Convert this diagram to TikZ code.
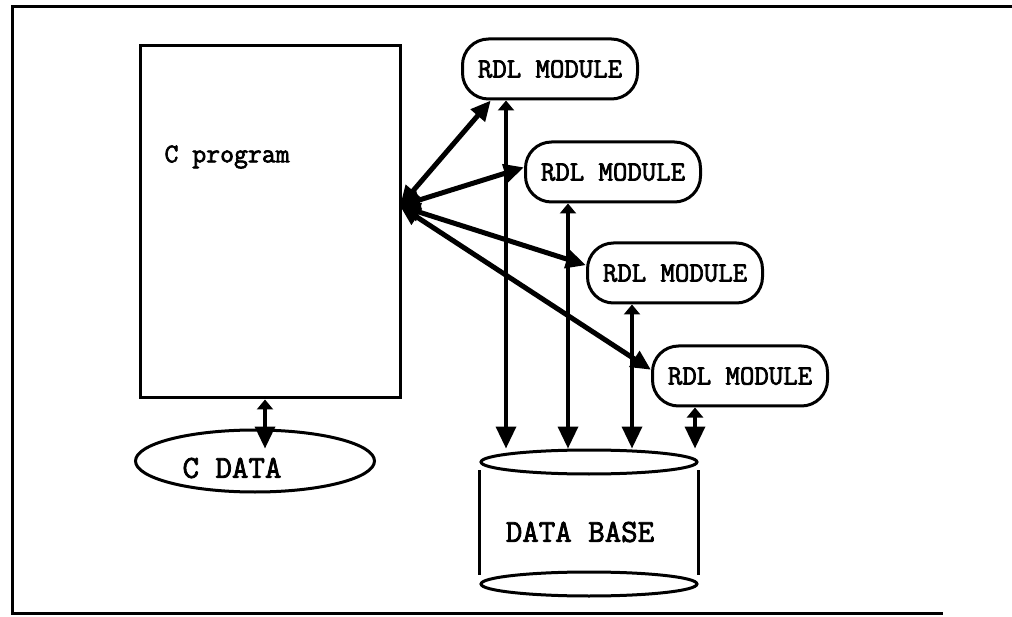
\documentclass[tikz,border=0pt]{standalone}
\usepackage{fontspec}
\setmonofont{Latin Modern Mono}[AutoFakeBold=2.5]
\usetikzlibrary{arrows.meta,shapes.geometric}

\begin{document}
\begin{tikzpicture}[x=1pt,y=-1pt]

\tikzset{
module/.style={rectangle,rounded corners=26pt,minimum width=175pt,minimum height=60pt,line width=3pt,draw=black,font=\ttfamily\bfseries\fontsize{28}{32}\selectfont},
txt/.style={font=\ttfamily\bfseries\fontsize{27}{31}\selectfont},
bigtxt/.style={font=\ttfamily\bfseries\fontsize{32}{36}\selectfont},
link/.style={line width=5pt,{Triangle[length=20pt,width=18pt]}-{Triangle[length=20pt,width=18pt]}},
dblink/.style={line width=3.5pt,{Triangle[length=10pt,width=16pt]}-{Triangle[length=22pt,width=20pt]}}
}

\useasboundingbox (0,0) rectangle (1012,617);
\draw[line width=3pt] (1012,7) -- (12,7) -- (12,613) -- (943,613);

\node[draw,line width=3pt,minimum width=260pt,minimum height=352pt] (cprog) at (270,222) {};
\node[txt,anchor=west] (cprogtext) at (161,157) {C program};

\node[draw,ellipse,line width=3pt,minimum width=239pt,minimum height=62pt] (cdata) at (255,461) {};
\node[bigtxt] (cdatatext) at (232,468) {C DATA};

\node[module] (m1) at (550,69) {RDL MODULE};
\node[module] (m2) at (613,172) {RDL MODULE};
\node[module] (m3) at (675,273) {RDL MODULE};
\node[module] (m4) at (740,376) {RDL MODULE};

\node[draw,ellipse,line width=3pt,minimum width=216pt,minimum height=24pt] (dbtop) at (589,462) {};
\node[draw,ellipse,line width=3pt,minimum width=216pt,minimum height=24pt] (dbbottom) at (589,584) {};
\draw[line width=3pt] ([yshift=-8pt]dbtop.west) -- ([yshift=9pt]dbbottom.west);
\draw[line width=3pt] ([yshift=-8pt]dbtop.east) -- ([yshift=9pt]dbbottom.east);
\node[bigtxt] (dbtext) at (580,532) {DATA BASE};

\coordinate (hub) at (400,206);
\draw[link] (hub) -- (m1.208);
\draw[link] (hub) -- (m2.177);
\draw[link] (hub) -- (m3.175);
\draw[link] (hub) -- (m4.176);

\coordinate (v1) at ([xshift=-44pt]m1.south);
\coordinate (v2) at ([xshift=-45pt]m2.south);
\coordinate (v3) at ([xshift=-43pt]m3.south);
\coordinate (v4) at ([xshift=-45pt]m4.south);
\draw[dblink] (v1) -- (v1 |- dbtop.north);
\draw[dblink] (v2) -- (v2 |- dbtop.north);
\draw[dblink] (v3) -- (v3 |- dbtop.north);
\draw[dblink] (v4) -- (v4 |- dbtop.north);

\coordinate (c1) at ([xshift=-5pt]cprog.south);
\coordinate (c2) at (c1 |- cdata.north);
\draw[dblink] (c1) -- ([yshift=-20pt]c2);

\end{tikzpicture}
\end{document}
